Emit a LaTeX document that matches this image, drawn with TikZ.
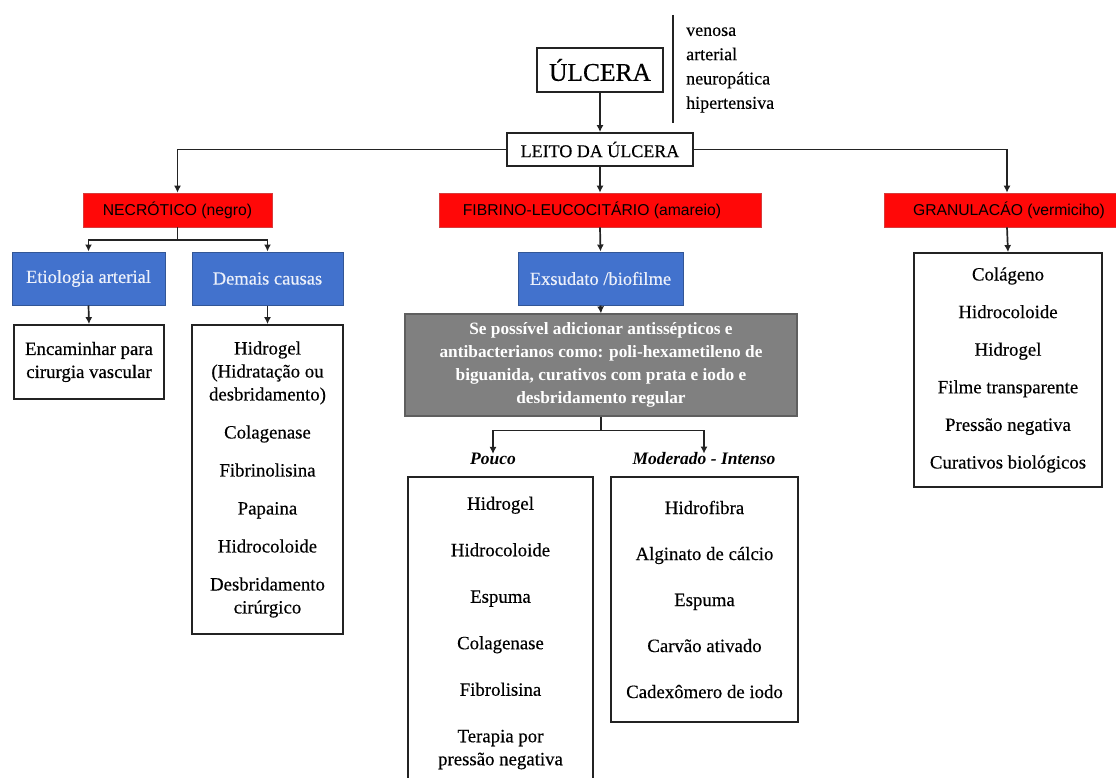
\documentclass[tikz,border=0pt]{standalone}
\usepackage{fontspec}
\setmainfont{Liberation Serif}
\newfontfamily\arialfont{Liberation Sans}
\usetikzlibrary{arrows.meta}
\definecolor{redbox}{RGB}{255,8,8}
\definecolor{redline}{RGB}{215,60,60}
\definecolor{bluebox}{RGB}{66,114,205}
\definecolor{blueline}{RGB}{50,86,150}
\definecolor{bluetext}{RGB}{236,240,250}
\definecolor{graybox}{RGB}{128,128,128}
\definecolor{grayline}{RGB}{95,95,95}
\definecolor{linecol}{RGB}{35,35,35}
\newcommand{\heavy}{\addfontfeature{FakeBold=0.35}}
\begin{document}
\begin{tikzpicture}[x=1pt,y=-1pt,
  wbox/.style={draw=linecol, line width=1.8pt, fill=white, inner sep=0pt, align=center},
  rbox/.style={draw=redline, line width=0.6pt, fill=redbox, inner sep=0pt, minimum height=34pt,
     font=\arialfont\fontsize{15.7}{18}\selectfont},
  bbox/.style={draw=blueline, line width=1pt, fill=bluebox, inner sep=0pt, minimum height=53pt,
     text=bluetext, font=\fontsize{18.5}{22}\selectfont\heavy},
  gbox/.style={draw=grayline, line width=1.2pt, fill=graybox, inner sep=0pt, align=center,
     text=white, font=\bfseries\fontsize{17.3}{23}\selectfont},
  list/.style={wbox, font=\fontsize{18.8}{23}\selectfont\heavy},
  lbl/.style={font=\bfseries\itshape\fontsize{17.5}{21}\selectfont, inner sep=2pt},
  conn/.style={draw=linecol, line width=1.7pt},
  arr/.style={conn, -{Latex[length=7pt,width=7pt]}}
]
\useasboundingbox (0,0) rectangle (1116,778);
\fill[white] (0,0) rectangle (1116,778);

% top
\node[wbox, minimum width=126pt, minimum height=44pt, font=\fontsize{25.5}{28}\selectfont\heavy] (ulcera) at (600,70) {ÚLCERA};
\node[anchor=west, align=left, inner sep=0pt, font=\fontsize{18}{24.3}\selectfont\heavy] (types) at (686,70) {venosa\\arterial\\neuropática\\hipertensiva};
\draw[line width=2pt, draw=linecol] (673,15) -- (673,123);
\node[wbox, minimum width=186pt, minimum height=33pt, font=\fontsize{18}{22}\selectfont\heavy] (leito) at (600,149.5) {LEITO DA ÚLCERA};

% red boxes
\node[rbox, minimum width=189pt] (necro) at (177.5,210) {NECRÓTICO (negro)};
\node[rbox, minimum width=322pt] (fib) at (600,210) {\hspace*{-16pt}FIBRINO-LEUCOCITÁRIO (amareio)};
\node[rbox, minimum width=246pt] (gran) at (1007,210) {\hspace*{4pt}GRANULACÁO (vermiciho)};

% blue boxes
\node[bbox, minimum width=153pt] (etio) at (88.5,278.5) {Etiologia arterial};
\node[bbox, minimum width=151pt] (demais) at (267.5,278.5) {Demais causas};
\node[bbox, minimum width=165pt] (exs) at (600.5,278.5) {Exsudato /biofilme};

% necrotic branch lists
\node[list, minimum width=150pt, minimum height=74pt] (enc) at (89,362) {Encaminhar para\\cirurgia vascular};
\node[list, minimum width=151pt, minimum height=309pt] (dlist) at (267.5,479.5)
 {Hidrogel\\(Hidratação ou\\desbridamento)\\[15pt]Colagenase\\[15pt]Fibrinolisina\\[15pt]Papaina\\[15pt]Hidrocoloide\\[15pt]Desbridamento\\cirúrgico};

% gray box
\node[gbox, minimum width=392pt, minimum height=102pt] (gray) at (601,365)
 {Se possível adicionar antissépticos e\\antibacterianos como: poli-hexametileno de\\biguanida, curativos com prata e iodo e\\desbridamento regular};

% labels
\node[lbl] (pouco) at (493,459) {Pouco};
\node[lbl] (moder) at (704,459) {Moderado - Intenso};

% lists
\node[list, minimum width=185pt, minimum height=312pt] (plist) at (500.5,633)
 {Hidrogel\\[23.5pt]Hidrocoloide\\[23.5pt]Espuma\\[23.5pt]Colagenase\\[23.5pt]Fibrolisina\\[23.5pt]Terapia por\\pressão negativa};
\node[list, minimum width=187pt, minimum height=245pt] (mlist) at (704.5,599.5)
 {Hidrofibra\\[23pt]Alginato de cálcio\\[23pt]Espuma\\[23pt]Carvão ativado\\[23pt]Cadexômero de iodo};
\node[list, minimum width=188pt, minimum height=234pt] (glist) at (1008,370)
 {Colágeno\\[14.6pt]Hidrocoloide\\[14.6pt]Hidrogel\\[14.6pt]Filme transparente\\[14.6pt]Pressão negativa\\[14.6pt]Curativos biológicos};

% connectors
\draw[arr] (ulcera.south) -- (leito.north);
\draw[arr] (leito.west) -| (necro.north);
\draw[arr] (leito.east) -| (gran.north);
\draw[arr] (leito.south) -- (fib.north);
\draw[conn] (necro.south) -- ++(0,13) coordinate (nj);
\draw[arr] (nj) -| (etio.north);
\draw[arr] (nj) -| (demais.north);
\draw[arr] (etio.south) -- (enc.north);
\draw[arr] (demais.south) -- (dlist.north);
\draw[arr] (fib.south) -- (exs.north);
\draw[arr] (exs.south) -- (gray.north);
\draw[conn] (gray.south) -- ++(0,14) coordinate (gj);
\draw[arr] (gj) -| ([yshift=-3pt]pouco.north);
\draw[arr] (gj) -| ([yshift=-3pt]moder.north);
\draw[arr] (gran.south) -- (glist.north);
\end{tikzpicture}
\end{document}
